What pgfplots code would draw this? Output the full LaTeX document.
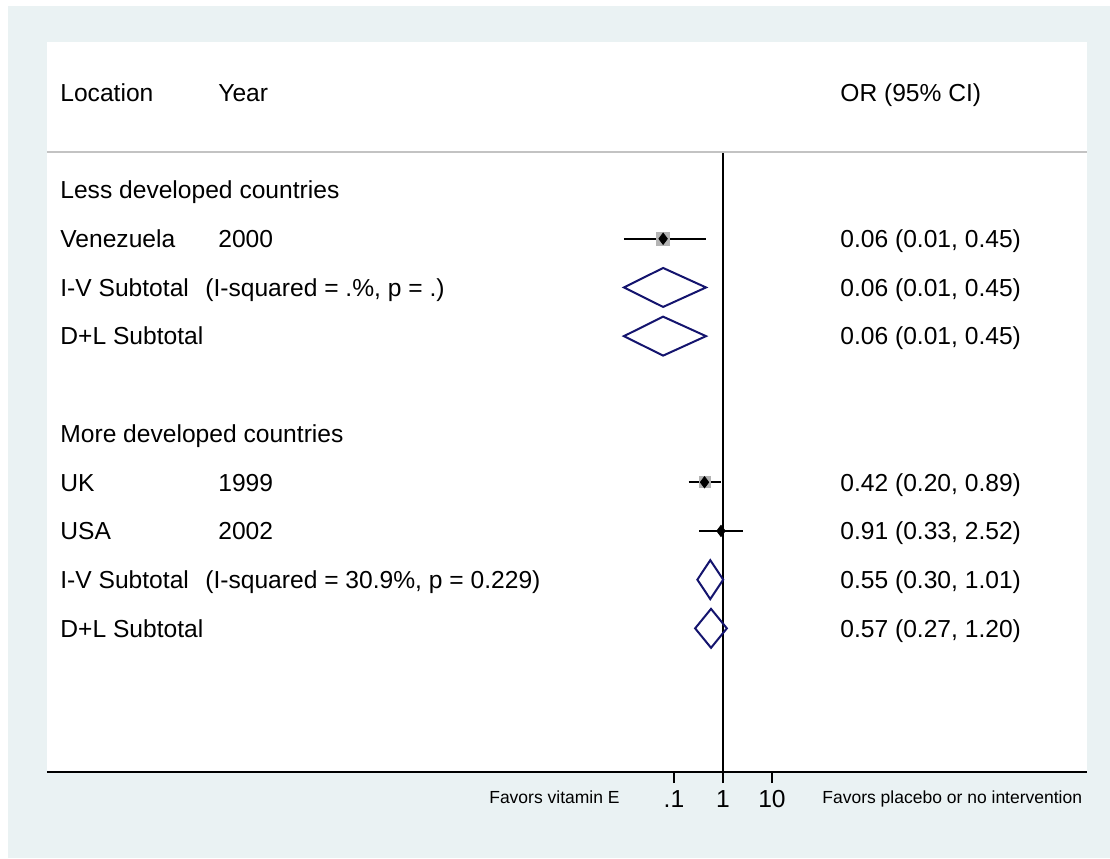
\documentclass[border=0pt]{standalone}
\usepackage{pgfplots}
\pgfplotsset{compat=1.18}
\usepackage{fontspec}
\setmainfont{Liberation Sans}
\definecolor{bgc}{RGB}{234,242,243}
\definecolor{dnavy}{RGB}{20,20,110}
\definecolor{boxg}{RGB}{180,180,180}
\definecolor{linegray}{RGB}{195,195,195}
\newcommand{\rowtext}[3]{\node[anchor=base west, inner sep=0pt, yshift=-4.4pt] at ({rel axis cs:#1,0}|-{axis cs:1,#2}) {#3};}
\begin{document}
\begin{tikzpicture}[font=\fontsize{12.3pt}{14pt}\selectfont]
\useasboundingbox (-23.5pt,-43pt) rectangle (531.5pt,386pt);
\fill[white] (-23.5pt,-43pt) rectangle (531.5pt,386pt);
\fill[bgc] (-19.5pt,-43pt) rectangle (531.5pt,383pt);
\begin{axis}[
  at={(0,0)}, anchor=south west,
  width=520pt, height=365pt, scale only axis,
  xmode=log, xmin=1.6e-14, xmax=2.683e7,
  ymin=-3.04, ymax=11.95, y dir=reverse,
  axis x line*=bottom, axis y line=none,
  axis line style={-, line width=0.9pt, black},
  every outer x axis line/.append style={-},
  xtick={0.1,1,10}, xticklabels={.1,1,10},
  xminorticks=false, minor tick num=0,
  ytick=\empty,
  tick align=outside, major tick length=5.5pt,
  tick style={black, line width=0.8pt},
  xticklabel style={font=\fontsize{12.3pt}{14pt}\selectfont, anchor=north, inner sep=0pt, yshift=-3.5pt},
  /pgf/number format/assume math mode=true,
  axis background/.style={fill=white},
  clip=false,
]
% weight boxes
\addplot[only marks, mark=square*, mark size=3.25pt, color=boxg, mark options={draw=boxg, fill=boxg}] coordinates {(0.06,1)};
\addplot[only marks, mark=square*, mark size=2.75pt, color=boxg, mark options={draw=boxg, fill=boxg}] coordinates {(0.42,6)};
\addplot[only marks, mark=square*, mark size=0.9pt, color=boxg, mark options={draw=boxg, fill=boxg}] coordinates {(0.91,7)};
% null line
\addplot[black, line width=1pt] coordinates {(1,-0.78) (1,11.95)};
% confidence intervals
\addplot[black, line width=1.2pt] coordinates {(0.0095,1) (0.45,1)};
\addplot[black, line width=1.2pt] coordinates {(0.20,6) (0.89,6)};
\addplot[black, line width=1.2pt] coordinates {(0.33,7) (2.52,7)};
% point estimates
\addplot[only marks, mark=diamond*, mark size=2.8pt, color=black, mark options={draw=black, fill=black}] coordinates {(0.06,1) (0.42,6) (0.91,7)};
% pooled diamonds
\addplot[dnavy, line width=1pt, line join=miter] coordinates {(0.0095,2) (0.06,1.6) (0.45,2) (0.06,2.4) (0.0095,2) (0.06,1.6)};
\addplot[dnavy, line width=1pt, line join=miter] coordinates {(0.0095,3) (0.06,2.6) (0.45,3) (0.06,3.4) (0.0095,3) (0.06,2.6)};
\addplot[dnavy, line width=1pt, line join=miter] coordinates {(0.30,8) (0.55,7.6) (1.01,8) (0.55,8.4) (0.30,8) (0.55,7.6)};
\addplot[dnavy, line width=1pt, line join=miter] coordinates {(0.27,9) (0.57,8.6) (1.20,9) (0.57,9.4) (0.27,9) (0.57,8.6)};
% header separator
\draw[linegray, line width=0.6pt] ({rel axis cs:0,0}|-{axis cs:1,-0.78}) -- ({rel axis cs:1,0}|-{axis cs:1,-0.78});
% text
\rowtext{0.0125}{-2}{Location}
\rowtext{0.1644}{-2}{Year}
\rowtext{0.7625}{-2}{OR (95\% CI)}
\rowtext{0.0125}{0}{Less developed countries}
\rowtext{0.0125}{1}{Venezuela}
\rowtext{0.1644}{1}{2000}
\rowtext{0.7625}{1}{0.06 (0.01, 0.45)}
\rowtext{0.0125}{2}{I-V Subtotal}
\rowtext{0.1519}{2}{(I-squared = .\%, p = .)}
\rowtext{0.7625}{2}{0.06 (0.01, 0.45)}
\rowtext{0.0125}{3}{D+L Subtotal}
\rowtext{0.7625}{3}{0.06 (0.01, 0.45)}
\rowtext{0.0125}{5}{More developed countries}
\rowtext{0.0125}{6}{UK}
\rowtext{0.1644}{6}{1999}
\rowtext{0.7625}{6}{0.42 (0.20, 0.89)}
\rowtext{0.0125}{7}{USA}
\rowtext{0.1644}{7}{2002}
\rowtext{0.7625}{7}{0.91 (0.33, 2.52)}
\rowtext{0.0125}{8}{I-V Subtotal}
\rowtext{0.1519}{8}{(I-squared = 30.9\%, p = 0.229)}
\rowtext{0.7625}{8}{0.55 (0.30, 1.01)}
\rowtext{0.0125}{9}{D+L Subtotal}
\rowtext{0.7625}{9}{0.57 (0.27, 1.20)}
\node[anchor=base east, inner sep=0pt, yshift=-3.1pt, font=\fontsize{8.75pt}{10pt}\selectfont] at ({rel axis cs:0.551,0}|-{axis cs:1,12.46}) {Favors vitamin E};
\node[anchor=base west, inner sep=0pt, yshift=-3.1pt, font=\fontsize{8.75pt}{10pt}\selectfont] at ({rel axis cs:0.7452,0}|-{axis cs:1,12.46}) {Favors placebo or no intervention};
\end{axis}
\end{tikzpicture}
\end{document}
